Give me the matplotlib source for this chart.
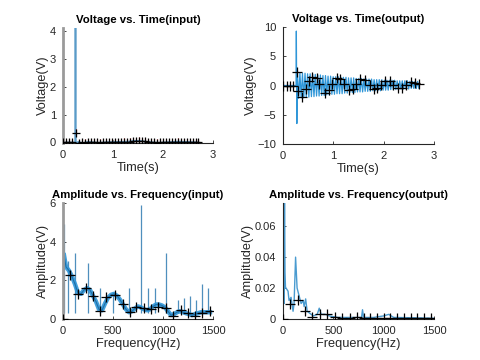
import numpy as np
import matplotlib
matplotlib.use("Agg")
import matplotlib.pyplot as plt

plt.rcParams["font.family"] = ["Liberation Sans", "DejaVu Sans"]

# ---- time domain, input ----
t_in = [0, 0.1, 0.2, 0.245, 0.25, 0.255, 0.27, 0.3, 0.4, 0.5, 0.7, 0.9, 1.1, 1.3, 1.45, 1.55, 1.7, 1.9, 2.1, 2.3, 2.5, 2.7]
v_in = [0, 0, 0, 0, 4.6, -0.1, -0.04, 0.02, -0.02, 0.02, -0.01, 0.01, 0.02, 0.03, 0.06, 0.05, 0.02, -0.01, 0.01, 0.03, 0.02, 0.0]

# decimated input points (denser than the output ones)
t_in_mark = [0, 0.06, 0.12, 0.18, 0.25, 0.31, 0.37, 0.43, 0.49, 0.55, 0.61, 0.67, 0.73, 0.79, 0.85, 0.91,
             0.97, 1.03, 1.09, 1.15, 1.21, 1.27, 1.33, 1.39, 1.45, 1.51, 1.57, 1.63, 1.69, 1.75, 1.81, 1.87,
             1.93, 1.99, 2.05, 2.11, 2.17, 2.23, 2.29, 2.35, 2.41, 2.47, 2.53, 2.59, 2.65, 2.70]
v_in_mark = [0, 0, 0, 0, 0.35, -0.02, 0, -0.01, 0.01, 0, 0.01, 0, -0.01, 0, 0, 0.01,
             0.02, 0.01, 0.02, 0.02, 0.03, 0.02, 0.03, 0.04, 0.05, 0.06, 0.05, 0.04, 0.02, 0.01, 0, -0.01,
             0, 0.01, 0, 0.01, 0.01, 0.02, 0.03, 0.02, 0.01, 0.02, 0.01, 0, 0, 0]

# ---- time domain, output ----
t_out_pre = [0, 0.26, 0.265, 0.275]
v_out_pre = [0, 0, 9.3, -6.5]
out_peaks = [2.3, 2.2, 2.1, 2.1, 2.0, 2.0, 1.9, 1.9, 1.8, 1.8, 1.7, 1.7, 1.6, 1.6, 1.5, 1.5,
             1.5, 1.4, 1.4, 1.4, 1.3, 1.3, 1.3, 1.2, 1.2, 1.2, 1.1, 1.1, 1.1, 1.1, 1.0, 1.0,
             1.0, 1.0, 0.9, 0.9, 0.9, 0.9, 0.9, 0.8, 0.8, 0.8, 0.8, 0.8, 0.7, 0.7, 0.7, 0.7]
out_troughs = [-2.2, -2.1, -2.1, -2.0, -2.0, -1.9, -1.9, -1.8, -1.8, -1.7, -1.7, -1.6, -1.6, -1.5, -1.5, -1.4,
               -1.4, -1.4, -1.3, -1.3, -1.2, -1.2, -1.2, -1.1, -1.1, -1.1, -1.0, -1.0, -1.0, -0.9, -0.9, -0.9,
               -0.9, -0.8, -0.8, -0.8, -0.7, -0.7, -0.7, -0.7, -0.6, -0.6, -0.6, -0.6, -0.5, -0.5, -0.5, -0.5]

t_mark = [0, 0.07, 0.135, 0.2, 0.27, 0.3, 0.38, 0.45, 0.51, 0.58, 0.68, 0.72, 0.83, 0.91, 0.97, 1.07, 1.14, 1.22,
          1.32, 1.39, 1.45, 1.53, 1.63, 1.72, 1.80, 1.87, 1.95, 2.03, 2.13, 2.19, 2.29, 2.36, 2.45, 2.54, 2.62, 2.70]
v_out_mark = [0, 0, 0, 0, 2.3, -1.0, -1.9, -0.6, 0.8, 1.5, 1.2, 0.2, -1.2, -0.7, 0.3, 1.25, 1.1, 0.3,
              -0.75, -0.6, 0.2, 1.1, 1.0, 0.1, -0.6, -0.5, 0.1, 0.8, 0.7, 0.1, -0.45, -0.35, 0.1, 0.6, 0.5, 0.2]

# ---- spectrum, input ----
f_in = [10, 30, 60, 90, 120, 150, 180, 210, 240, 270, 300, 330, 360, 390, 420, 450, 480, 510, 540, 570,
        600, 630, 660, 690, 720, 750, 780, 810, 840, 870, 900, 930, 960, 990, 1020, 1050, 1080, 1110, 1140,
        1170, 1200, 1230, 1260, 1290, 1320, 1350, 1380, 1410, 1440, 1470]
a_in = [3.3, 2.7, 2.5, 2.2, 1.8, 1.35, 1.3, 1.5, 1.6, 1.5, 1.2, 0.9, 0.5, 0.45, 0.8, 1.1, 1.25, 1.3, 1.2, 1.0,
        0.75, 0.5, 0.35, 0.4, 0.55, 0.65, 0.6, 0.5, 0.45, 0.5, 0.65, 0.75, 0.75, 0.7, 0.6, 0.4, 0.2, 0.25, 0.35,
        0.4, 0.35, 0.3, 0.25, 0.2, 0.25, 0.3, 0.35, 0.35, 0.35, 0.35]
spike_f = [10, 45, 120, 250, 370, 500, 660, 780, 850, 920, 1030, 1150, 1210, 1270, 1330, 1390, 1450]
spike_a = [4.9, 3.0, 3.4, 2.9, 1.6, 1.4, 1.6, 5.9, 1.6, 1.6, 3.4, 1.0, 1.1, 1.2, 1.0, 1.8, 1.6]
f_in_mark = [0, 67, 150, 233, 300, 367, 433, 517, 600, 667, 733, 810, 883, 950, 1033, 1100, 1177, 1250, 1317, 1393, 1467]
a_in_mark = [0, 2.3, 1.3, 1.6, 1.2, 0.4, 1.15, 1.25, 0.8, 0.35, 0.6, 0.55, 0.5, 0.6, 0.55, 0.15, 0.45, 0.3, 0.15, 0.3, 0.4]

# ---- spectrum, output ----
f_out = [0, 5, 10, 15, 20, 25, 30, 50, 60, 80, 100, 110, 125, 140, 160, 180, 200, 210, 225, 240, 260,
         300, 340, 360, 380, 420, 460, 500, 550, 600, 700, 780, 790, 800, 900, 1000, 1050, 1100, 1300, 1500]
a_out = [0, 0.065, 0.01, 0.08, 0.03, 0.02, 0.02, 0.018, 0.012, 0.014, 0.005, 0.01, 0.04, 0.02, 0.015, 0.01,
         0.012, 0.008, 0.013, 0.005, 0.004, 0.002, 0.003, 0.007, 0.003, 0.003, 0.002, 0.0015, 0.001, 0.001,
         0.001, 0.001, 0.006, 0.001, 0.001, 0.002, 0.003, 0.001, 0.0008, 0.0005]
f_out_mark = [0, 67, 150, 217, 290, 367, 440, 517, 590, 667, 733, 800, 867, 933, 1000, 1067, 1133, 1200,
              1267, 1333, 1400, 1467]
a_out_mark = [0, 0.0095, 0.0125, 0.005, 0.001, 0.003, 0.003, 0.0012, 0.0005, 0.0008, 0.001, 0.0005, 0.0005,
              0.0008, 0.0006, 0.0005, 0.0004, 0.0004, 0.0004, 0.0004, 0.0004, 0.0004]

BLUE = "#2f96d8"
DARK = "#262626"


def make_axes(fig, left, top, right, bottom):
    W, H = 480.0, 360.0
    ax = fig.add_axes([left / W, 1 - bottom / H, (right - left) / W, (bottom - top) / H])
    for s in ["top", "right"]:
        ax.spines[s].set_visible(False)
    for s in ["left", "bottom"]:
        ax.spines[s].set_color(DARK)
        ax.spines[s].set_linewidth(0.8)
    ax.tick_params(direction="in", length=2, width=0.6, labelsize=8, colors=DARK, pad=5)
    return ax


def finish(ax, title, xlabel, ylabel):
    ax.set_title(title, fontsize=8.2, fontweight="bold", pad=3.5)
    ax.set_xlabel(xlabel, fontsize=9.2, color=DARK, labelpad=1.5)
    ax.set_ylabel(ylabel, fontsize=9.2, color=DARK, labelpad=0.5)


def marks(ax, x, y, err, ms=7):
    ax.errorbar(x, y, yerr=err, fmt="none", ecolor="#c0201e", elinewidth=0.8, zorder=4)
    ax.plot(x, y, "+", color="black", ms=ms, mew=0.9, ls="none", zorder=5)


fig = plt.figure(figsize=(4.8, 3.6), dpi=100)

# top left
ax1 = make_axes(fig, 63, 28, 213, 143)
ax1.plot(t_in, v_in, color="#5a9bc8", lw=1.2)
marks(ax1, t_in_mark, v_in_mark, 0.12, ms=6)
ax1.set_xlim(0, 3)
ax1.set_ylim(-0.02, 4.1)
ax1.set_xticks([0, 1, 2, 3])
ax1.set_yticks([0, 1, 2, 3, 4])
ax1.spines["left"].set_color("#9a9a9a")
ax1.spines["left"].set_linewidth(2)
finish(ax1, "Voltage vs. Time(input)", "Time(s)", "Voltage(V)")

# top right
n = len(out_peaks)
t_osc = np.linspace(0.285, 2.7, 2 * n)
v_osc = np.empty(2 * n)
v_osc[0::2] = out_peaks
v_osc[1::2] = out_troughs
ax2 = make_axes(fig, 283, 27, 434, 144)
ax2.plot(np.concatenate([t_out_pre, t_osc]), np.concatenate([v_out_pre, v_osc]), color=BLUE, lw=0.9)
marks(ax2, t_mark, v_out_mark, 0.4)
ax2.set_xlim(0, 3)
ax2.set_ylim(-10, 10)
ax2.set_xticks([0, 1, 2, 3])
ax2.set_yticks([-10, -5, 0, 5, 10])
finish(ax2, "Voltage vs. Time(output)", "Time(s)", "Voltage(V)")

# bottom left
ax3 = make_axes(fig, 63, 203, 213, 319)
ax3.vlines(spike_f, 0.3, spike_a, color="#4f8fbd", lw=0.9)
ax3.plot(f_in, a_in, color=BLUE, lw=3.2, alpha=0.9)
ax3.plot(f_in, a_in, color="#1d6fa8", lw=0.8)
marks(ax3, f_in_mark, a_in_mark, 0.12)
ax3.set_xlim(0, 1500)
ax3.set_ylim(0, 6)
ax3.set_xticks([0, 500, 1000, 1500])
ax3.set_yticks([0, 2, 4, 6])
ax3.spines["left"].set_color("#9a9a9a")
ax3.spines["left"].set_linewidth(2)
finish(ax3, "Amplitude vs. Frequency(input)", "Frequency(Hz)", "Amplitude(V)")

# bottom right
ax4 = make_axes(fig, 283, 203, 434, 319)
ax4.plot(f_out, a_out, color="#4a9bd0", lw=1.0)
marks(ax4, f_out_mark, a_out_mark, 0.0015)
ax4.set_xlim(0, 1500)
ax4.set_ylim(0, 0.075)
ax4.set_xticks([0, 500, 1000, 1500])
ax4.set_yticks([0, 0.02, 0.04, 0.06])
ax4.set_yticklabels(["0", "0.02", "0.04", "0.06"])
finish(ax4, "Amplitude vs. Frequency(output)", "Frequency(Hz)", "Amplitude(V)")

fig.savefig("out.png", dpi=100)
